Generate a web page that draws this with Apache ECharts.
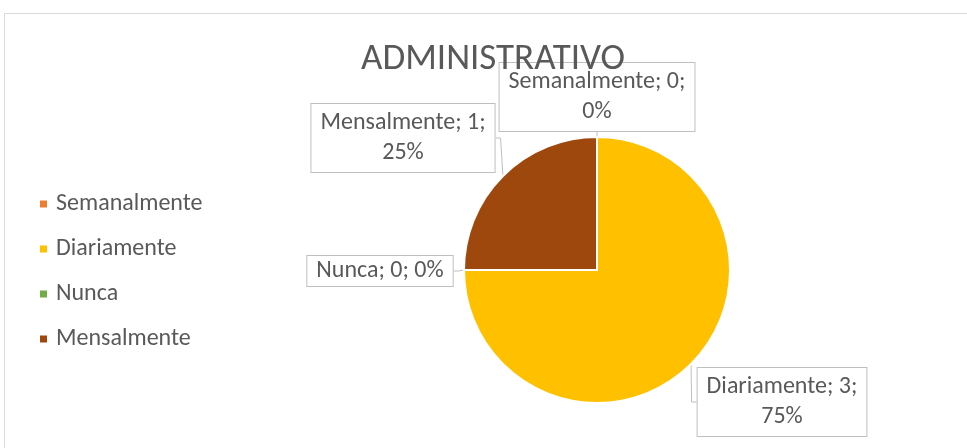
<!DOCTYPE html>
<html>
<head>
<meta charset="utf-8">
<script src="https://cdn.jsdelivr.net/npm/echarts@6/dist/echarts.min.js"></script>
<style>html,body{margin:0;padding:0;background:#fff;}#c{width:967px;height:448px;}</style>
</head>
<body>
<div id="c"></div>
<script>
const titleText = 'ADMINISTRATIVO';
const categories = ['Semanalmente', 'Diariamente', 'Nunca', 'Mensalmente'];
const values = [0, 3, 0, 1];
const colors = ['#ED7D31', '#FFC000', '#70AD47', '#9E480E'];
// label box centres (layout only), same order as categories
const labelPos = [[597, 97], [782, 402], [380, 271], [403, 138]];
const labelPad = [[4, 9], [4, 9], [0, 9], [4, 9]];

const FONT = 'Calibri, Carlito, Lato, sans-serif';
const chart = echarts.init(document.getElementById('c'));
const option = {
  animation: false,
  backgroundColor: '#fff',
  title: {
    text: titleText,
    left: 361,
    top: 41,
    padding: 0,
    textStyle: { fontFamily: FONT, fontSize: 37, fontWeight: 'normal', color: '#595959' }
  },
  graphic: [{
    type: 'rect', silent: true, z: -10,
    shape: { x: 4.5, y: 13.5, width: 980, height: 460 },
    style: { fill: 'none', stroke: '#d9d9d9', lineWidth: 1 }
  }],
  legend: {
    orient: 'vertical',
    left: 38,
    top: 192,
    padding: 0,
    icon: 'rect',
    itemWidth: 9,
    itemHeight: 9,
    itemGap: 21,
    selectedMode: false,
    data: categories,
    textStyle: { fontFamily: FONT, fontSize: 24, color: '#595959', padding: [0, 0, 0, 3] }
  },
  series: [{
    type: 'pie',
    center: [597, 270],
    radius: 133,
    startAngle: 90,
    clockwise: true,
    avoidLabelOverlap: false,
    itemStyle: { borderColor: '#fff', borderWidth: 2 },
    label: {
      show: true,
      fontFamily: FONT,
      fontSize: 24,
      lineHeight: 30,
      color: '#595959',
      backgroundColor: '#fff',
      borderColor: '#bfbfbf',
      borderWidth: 1,
      align: 'center',
      formatter: function (p) {
        if (p.name === 'Nunca') return p.name + '; ' + p.value + '; ' + Math.round(p.percent) + '%';
        return p.name + '; ' + p.value + ';\n' + Math.round(p.percent) + '%';
      }
    },
    labelLine: { show: true, length: 5, length2: 5, lineStyle: { color: '#bfbfbf', width: 1 } },
    labelLayout: function (params) {
      const p = labelPos[params.dataIndex];
      return { x: p[0], y: p[1], align: 'center', verticalAlign: 'middle' };
    },
    emphasis: { disabled: true },
    data: categories.map(function (n, i) {
      return {
        name: n, value: values[i],
        itemStyle: { color: colors[i] },
        label: { padding: labelPad[i] }
      };
    })
  }]
};
chart.setOption(option);
</script>
</body>
</html>
